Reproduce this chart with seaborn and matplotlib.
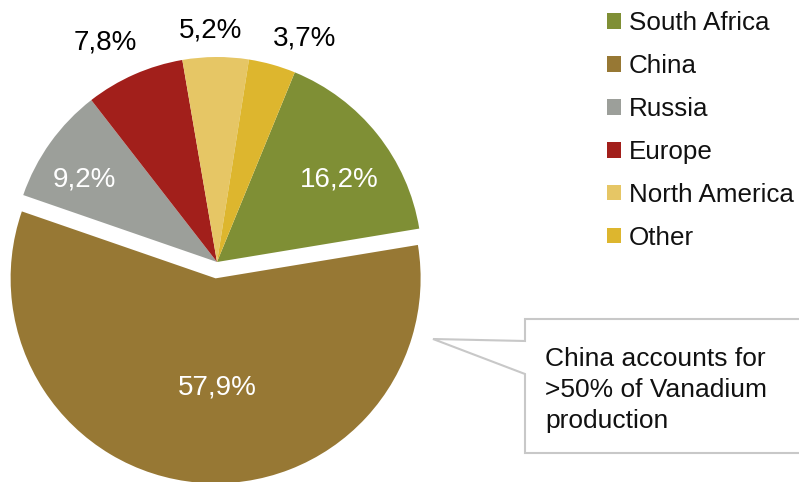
import numpy as np
import matplotlib
matplotlib.use("Agg")
import matplotlib.pyplot as plt
from matplotlib.patches import Polygon
import seaborn as sns

# ---- data ----
regions = ["South Africa", "China", "Russia", "Europe", "North America", "Other"]
shares = [16.2, 57.9, 9.2, 7.8, 5.2, 3.7]
share_labels = ["16,2%", "57,9%", "9,2%", "7,8%", "5,2%", "3,7%"]
colors = ["#7F8F35", "#977834", "#9C9F9A", "#A21F1B", "#E6C665", "#DDB62E"]
callout_text = "China accounts for\n>50% of Vanadium\nproduction"

sns.set_style("white")
plt.rcParams["font.family"] = ["Liberation Sans", "DejaVu Sans"]

W, H = 799, 482
fig = plt.figure(figsize=(W / 100, H / 100), dpi=100)
ax = fig.add_axes([0, 0, 1, 1])

cx, cy, R = 217, H - 262, 205
# explode offset is in data units (pixels here)
explode = [0.08 * R if r == "China" else 0 for r in regions]
wedges, _ = ax.pie(shares, colors=colors, startangle=67.7, counterclock=False,
                   center=(cx, cy), radius=R, explode=explode,
                   wedgeprops=dict(linewidth=0))
ax.set_xlim(0, W)
ax.set_ylim(0, H)
ax.set_aspect("equal")
ax.axis("off")

# label placement (angle in degrees, distance as fraction of radius, colour)
label_layout = [(34, 0.72, "white"), (-89, 0.535, "white"), (148, 0.76, "white"),
                (117, 1.2, "black"), (91.7, 1.13, "black"), (68.5, 1.17, "black")]
for w, lab, (ang, dist, col) in zip(wedges, share_labels, label_layout):
    wx, wy = w.center
    a = np.deg2rad(ang)
    ax.text(wx + dist * R * np.cos(a), wy + dist * R * np.sin(a), lab,
            ha="center", va="center", fontsize=20, color=col)

# legend
leg = ax.legend(wedges, regions, loc="upper left",
                bbox_to_anchor=(607 / W, (H - 11) / H), bbox_transform=fig.transFigure,
                frameon=False, fontsize=18.7, handlelength=0.55, handleheight=0.55,
                handletextpad=0.3, labelspacing=0.73, borderpad=0, borderaxespad=0)
for t in leg.get_texts():
    t.set_color("#111111")

# callout box
pts = [(525, 319), (810, 319), (810, 453), (525, 453), (525, 374), (433, 339), (525, 341)]
poly = Polygon([(x, H - y) for x, y in pts], closed=True, facecolor="white",
               edgecolor="#C8C8C8", linewidth=1.5, joinstyle="miter")
ax.add_patch(poly)
ax.text(545, H - 390, callout_text, ha="left", va="center", fontsize=19,
        linespacing=1.38, color="#111111")

fig.savefig("out.png", dpi=100)
